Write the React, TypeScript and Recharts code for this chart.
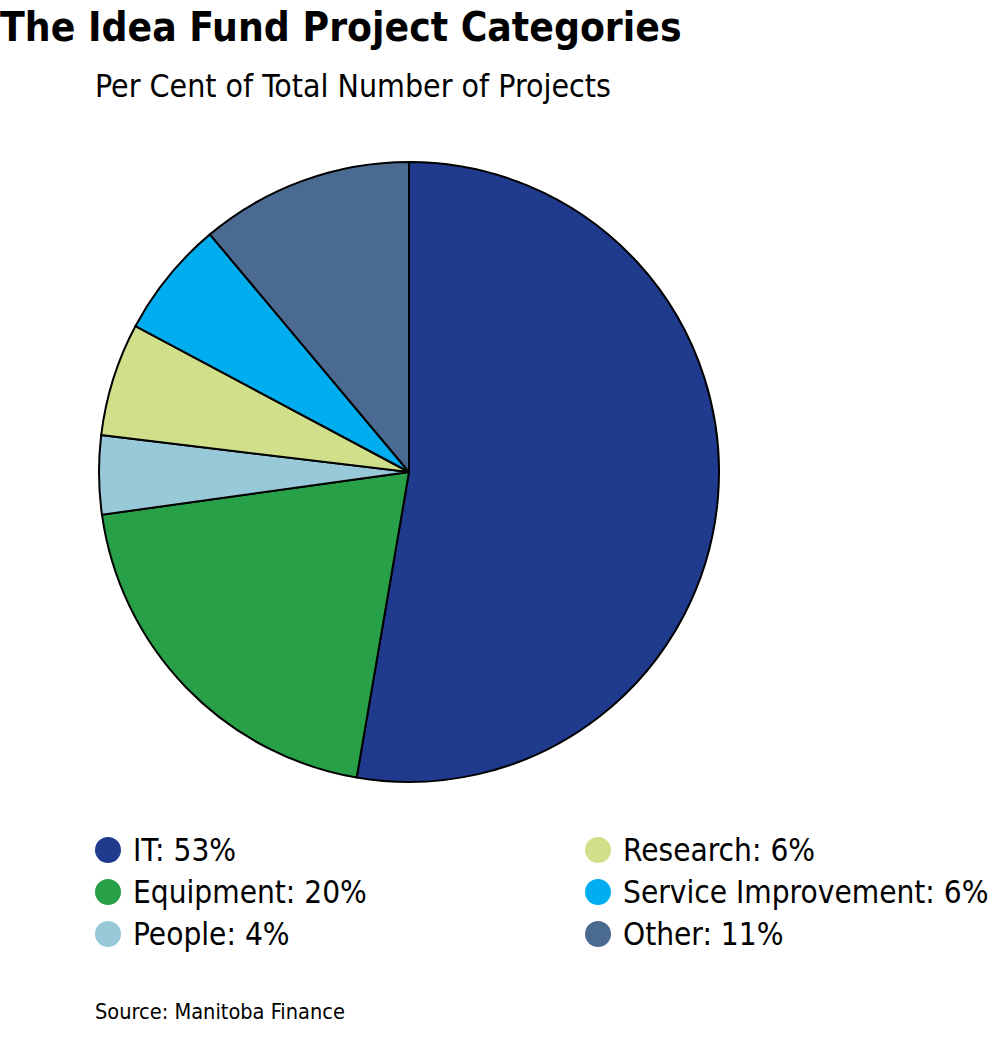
import React from "react";
import { PieChart, Pie, Cell } from "recharts";

const categories = ["IT", "Equipment", "People", "Research", "Service Improvement", "Other"];
// slice sizes; the legend shows them rounded
const shares = [52.7, 20.1, 4.1, 5.9, 6.1, 11.1];
const colors = ["#203a8e", "#27a048", "#98c9d9", "#d0e08a", "#00aeef", "#4b6a91"];

// legend is laid out in two columns of three
const legendColumns = [
  [0, 1, 2],
  [3, 4, 5],
];

const font = "'DejaVu Sans Condensed', 'Liberation Sans Narrow', sans-serif";

export default function App() {
  const data = categories.map((name, i) => ({ name, value: shares[i] }));

  return (
    <div
      style={{
        position: "absolute",
        left: 0,
        top: 0,
        width: 988,
        height: 1038,
        background: "#fff",
        fontFamily: font,
        color: "#000",
      }}
    >
      <div
        style={{
          position: "absolute",
          left: 0,
          top: 2,
          fontSize: 40.4,
          fontWeight: "bold",
          lineHeight: "50px",
          whiteSpace: "nowrap",
        }}
      >
        The Idea Fund Project Categories
      </div>
      <div
        style={{
          position: "absolute",
          left: 95,
          top: 67,
          fontSize: 31.8,
          lineHeight: "38px",
          whiteSpace: "nowrap",
        }}
      >
        Per Cent of Total Number of Projects
      </div>

      <div style={{ position: "absolute", left: 0, top: 0 }}>
        <PieChart width={988} height={820}>
          <Pie
            data={data}
            dataKey="value"
            nameKey="name"
            cx={404}
            cy={467}
            outerRadius={310}
            startAngle={90}
            endAngle={-270}
            stroke="#000"
            strokeWidth={2}
            isAnimationActive={false}
          >
            {data.map((entry, index) => (
              <Cell key={`cell-${index}`} fill={colors[index]} />
            ))}
          </Pie>
        </PieChart>
      </div>

      {legendColumns.map((col, ci) => (
        <div
          key={ci}
          style={{ position: "absolute", left: ci === 0 ? 95 : 585, top: 829 }}
        >
          {col.map((i) => (
            <div
              key={i}
              style={{
                display: "flex",
                alignItems: "center",
                height: 42,
                fontSize: 31.3,
                whiteSpace: "nowrap",
              }}
            >
              <span
                style={{
                  display: "inline-block",
                  width: 26,
                  height: 26,
                  borderRadius: 13,
                  background: colors[i],
                  marginRight: 12,
                }}
              />
              {`${categories[i]}: ${Math.round(shares[i])}%`}
            </div>
          ))}
        </div>
      ))}

      <div
        style={{
          position: "absolute",
          left: 95,
          top: 997,
          fontSize: 21.6,
          lineHeight: "30px",
          whiteSpace: "nowrap",
        }}
      >
        Source: Manitoba Finance
      </div>
    </div>
  );
}
